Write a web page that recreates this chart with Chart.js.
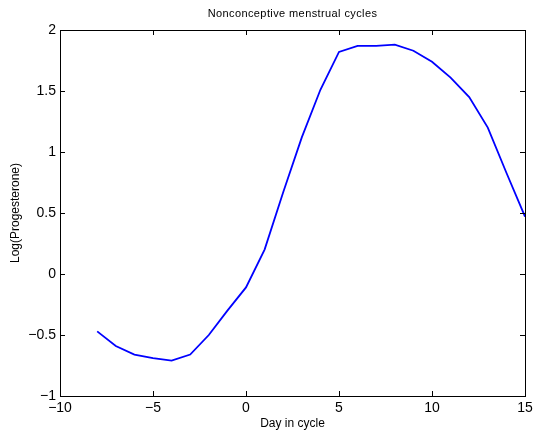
<!DOCTYPE html>
<html>
<head>
<meta charset="utf-8">
<script src="https://cdn.jsdelivr.net/npm/chart.js@4"></script>
<style>
  html, body { margin: 0; padding: 0; background: #fff; }
  #wrap { width: 534px; height: 432px; }
</style>
</head>
<body>
<div id="wrap"><canvas id="main-chart"></canvas></div>
<script>
// day in cycle and log progesterone
const days = [-8, -7, -6, -5, -4, -3, -2, -1, 0, 1, 2, 3, 4, 5, 6, 7, 8, 9, 10, 11, 12, 13, 14, 15];
const logProg = [-0.47, -0.59, -0.66, -0.69, -0.71, -0.66, -0.50, -0.30, -0.11, 0.20, 0.67, 1.12,
                 1.51, 1.82, 1.87, 1.87, 1.88, 1.83, 1.74, 1.61, 1.45, 1.20, 0.83, 0.47];
const xTicks = [-10, -5, 0, 5, 10, 15];
const yTicks = [-1, -0.5, 0, 0.5, 1, 1.5, 2];
const titleText = 'Nonconceptive menstrual cycles';

const FONT = '"Liberation Sans", Arial, Helvetica, sans-serif';
const minus = v => String(v).replace('-', '\u2212');

// matlab-ish box with inward ticks + title over the axes
const boxPlugin = {
  id: 'box',
  afterDraw(chart) {
    const ctx = chart.ctx;
    const a = chart.chartArea;
    const xs = chart.scales.x, ys = chart.scales.y;
    const len = 5;
    ctx.save();
    ctx.strokeStyle = '#000';
    ctx.lineWidth = 1;
    ctx.beginPath();
    xTicks.forEach(t => {
      const px = Math.round(xs.getPixelForValue(t)) + 0.5;
      ctx.moveTo(px, a.bottom); ctx.lineTo(px, a.bottom - len);
      ctx.moveTo(px, a.top); ctx.lineTo(px, a.top + len);
    });
    yTicks.forEach(t => {
      const py = Math.round(ys.getPixelForValue(t)) + 0.5;
      ctx.moveTo(a.left, py); ctx.lineTo(a.left + len, py);
      ctx.moveTo(a.right, py); ctx.lineTo(a.right - len, py);
    });
    ctx.stroke();
    ctx.strokeRect(Math.round(a.left) + 0.5, Math.round(a.top) + 0.5,
                   Math.round(a.right - a.left), Math.round(a.bottom - a.top));
    ctx.fillStyle = '#000';
    ctx.font = '11px ' + FONT;
    ctx.letterSpacing = '0.4px';
    ctx.textAlign = 'center';
    ctx.textBaseline = 'middle';
    ctx.fillText(titleText, (a.left + a.right) / 2, 14);
    ctx.restore();
  }
};

const ctx = document.getElementById('main-chart').getContext('2d');
new Chart(ctx, {
  type: 'line',
  data: {
    datasets: [{
      data: days.map((d, i) => ({ x: d, y: logProg[i] })),
      borderColor: 'rgb(0, 0, 255)',
      borderWidth: 1.8,
      pointRadius: 0,
      tension: 0,
      fill: false
    }]
  },
  options: {
    responsive: true,
    maintainAspectRatio: false,
    animation: false,
    layout: { padding: { top: 30, right: 9, left: 0, bottom: 0 } },
    plugins: { legend: { display: false }, tooltip: { enabled: false } },
    scales: {
      x: {
        type: 'linear',
        min: -10, max: 15,
        afterBuildTicks: s => { s.ticks = xTicks.map(v => ({ value: v })); },
        afterFit: s => { s.height = 36; s.paddingLeft = 0; s.paddingRight = 0; },
        grid: { display: false, drawTicks: false },
        border: { display: false },
        ticks: { color: '#000', padding: 4, maxRotation: 0, font: { family: FONT, size: 14 }, callback: minus },
        title: { display: true, text: 'Day in cycle', color: '#000', padding: { top: 0, bottom: 1 }, font: { family: FONT, size: 12 } }
      },
      y: {
        min: -1, max: 2,
        afterBuildTicks: s => { s.ticks = yTicks.map(v => ({ value: v })); },
        afterFit: s => { s.width = 60; s.paddingTop = 0; s.paddingBottom = 0; },
        grid: { display: false, drawTicks: false },
        border: { display: false },
        ticks: { color: '#000', padding: 4, font: { family: FONT, size: 14 }, callback: minus },
        title: { display: true, text: 'Log(Progesterone)', color: '#000', padding: { top: 8, bottom: 0 }, font: { family: FONT, size: 12 } }
      }
    }
  },
  plugins: [boxPlugin]
});
</script>
</body>
</html>
